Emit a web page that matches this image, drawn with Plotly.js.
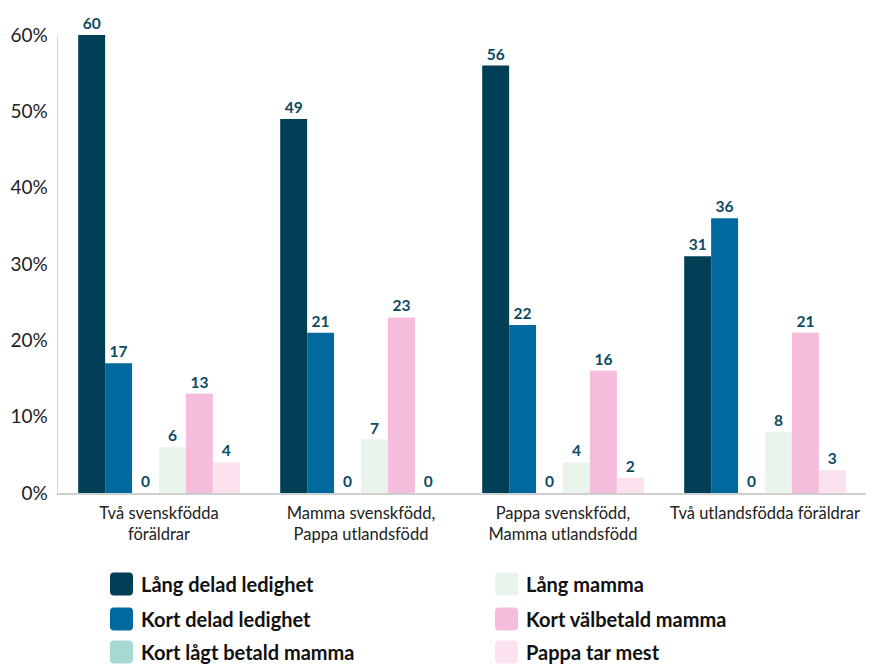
<!DOCTYPE html>
<html>
<head>
<meta charset="utf-8">
<script src="https://cdn.plot.ly/plotly-3.0.1.min.js"></script>
<style>html,body{margin:0;padding:0;background:#fff;}#chart{width:874px;height:666px;}</style>
</head>
<body>
<div id="chart"></div>
<script>
const categories = ["Två svenskfödda<br>föräldrar", "Mamma svenskfödd,<br>Pappa utlandsfödd", "Pappa svenskfödd,<br>Mamma utlandsfödd", "Två utlandsfödda föräldrar"];
const seriesNames = ["Lång delad ledighet", "Kort delad ledighet", "Kort lågt betald mamma", "Lång mamma", "Kort välbetald mamma", "Pappa tar mest"];
const langDelad = [60, 49, 56, 31];
const kortDelad = [17, 21, 22, 36];
const kortLagt = [0, 0, 0, 0];
const langMamma = [6, 7, 4, 8];
const kortValbetald = [13, 23, 16, 21];
const pappaTarMest = [4, 0, 2, 3];
const yTickVals = [0, 10, 20, 30, 40, 50, 60];
const yTickText = ["0%", "10%", "20%", "30%", "40%", "50%", "60%"];

const seriesValues = [langDelad, kortDelad, kortLagt, langMamma, kortValbetald, pappaTarMest];
const colors = ["#013f57", "#00699e", "#a7d8d4", "#e9f4eb", "#f5bddb", "#fce1ee"];

const W = 874, H = 666;
const M = {l: 58, r: 8, t: 35, b: 173};
const pw = W - M.l - M.r, ph = H - M.t - M.b;
const px = X => (X - M.l) / pw;
const py = Y => (H - M.b - Y) / ph;

const traces = seriesNames.map((name, i) => ({
  type: 'bar',
  name: name,
  x: categories,
  y: seriesValues[i],
  marker: {color: colors[i]},
  text: seriesValues[i].map(v => '<b>' + v + '</b>'),
  texttemplate: '%{text}',
  textposition: 'outside',
  textfont: {family: 'Lato, sans-serif', size: 15.5, color: '#0c4a5f'},
  cliponaxis: false,
  showlegend: false,
  hoverinfo: 'skip'
}));

// manual legend: two columns, three rows
const shapes = [];
const annotations = [];
const colX = [110, 495];
const rowY = [584, 619, 652];
const legendOrder = [[0, 1, 2], [3, 4, 5]];
const sz = 23, rad = 4;
legendOrder.forEach((col, c) => {
  col.forEach((si, r) => {
    const x0 = colX[c], y0 = rowY[r] - sz / 2, x1 = x0 + sz, y1 = y0 + sz;
    const P = (X, Y) => px(X) + ',' + py(Y);
    const path = 'M' + P(x0 + rad, y0) + ' L' + P(x1 - rad, y0) + ' Q' + P(x1, y0) + ' ' + P(x1, y0 + rad) +
      ' L' + P(x1, y1 - rad) + ' Q' + P(x1, y1) + ' ' + P(x1 - rad, y1) +
      ' L' + P(x0 + rad, y1) + ' Q' + P(x0, y1) + ' ' + P(x0, y1 - rad) +
      ' L' + P(x0, y0 + rad) + ' Q' + P(x0, y0) + ' ' + P(x0 + rad, y0) + ' Z';
    shapes.push({type: 'path', xref: 'paper', yref: 'paper', path: path,
      fillcolor: colors[si], line: {width: 0}});
    annotations.push({xref: 'paper', yref: 'paper', x: px(x0 + sz + 6), y: py(rowY[r]),
      xanchor: 'left', yanchor: 'middle', showarrow: false,
      text: '<b>' + seriesNames[si] + '</b>',
      font: {family: 'Lato, sans-serif', size: 20, color: '#111'}});
  });
});

const layout = {
  width: W, height: H,
  margin: M,
  paper_bgcolor: '#fff', plot_bgcolor: '#fff',
  barmode: 'group', bargap: 0.2, bargroupgap: 0,
  showlegend: false,
  font: {family: 'Lato, sans-serif', color: '#222'},
  xaxis: {
    type: 'category',
    showgrid: false, zeroline: false,
    showline: true, linecolor: '#cfcfcf', linewidth: 2,
    ticks: '', tickfont: {size: 16.5, color: '#222'},
    ticklabelstandoff: 4
  },
  yaxis: {
    range: [0, 60], showgrid: false, zeroline: false,
    showline: true, linecolor: '#d6d6d6', linewidth: 1.5,
    tickvals: yTickVals, ticktext: yTickText, ticks: '',
    tickfont: {size: 19, color: '#222'}, ticklabelstandoff: 5
  },
  shapes: shapes,
  annotations: annotations
};

Plotly.newPlot('chart', traces, layout, {displayModeBar: false, staticPlot: true});
</script>
</body>
</html>
